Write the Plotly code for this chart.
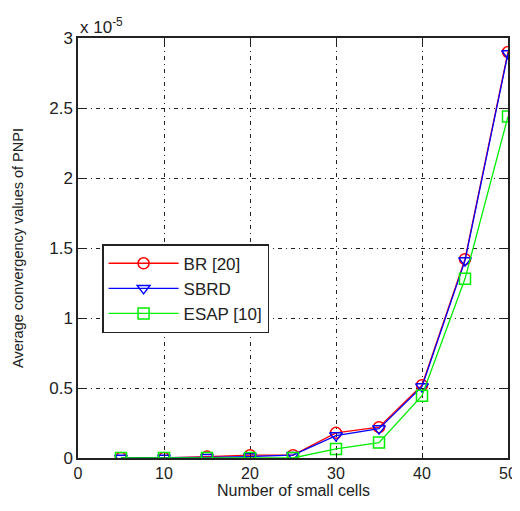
import plotly.graph_objects as go

x_cells = [5, 10, 15, 20, 25, 30, 35, 40, 45, 50]
# values in units of 1e-5
br = [0.0, 0.0, 0.01, 0.02, 0.02, 0.18, 0.22, 0.52, 1.42, 2.90]
sbrd = [0.0, 0.0, 0.005, 0.01, 0.02, 0.16, 0.21, 0.51, 1.41, 2.89]
esap = [0.0, 0.0, 0.0, 0.0, 0.0, 0.065, 0.11, 0.445, 1.28, 2.44]
x_ticks = [0, 10, 20, 30, 40, 50]
y_ticks = [0, 0.5, 1, 1.5, 2, 2.5, 3]
y_tick_text = ["0", "0.5", "1", "1.5", "2", "2.5", "3"]

fig = go.Figure()
series = [
    ("BR [20]", br, "#ff0000", "circle-open"),
    ("SBRD", sbrd, "#0000ff", "triangle-down-open"),
    ("ESAP [10]", esap, "#00ee00", "square-open"),
]
for name, ys, col, sym in series:
    fig.add_trace(go.Scatter(
        x=x_cells, y=ys, name=name, mode="lines+markers",
        line=dict(color=col, width=1.3),
        marker=dict(symbol=sym, size=11, color=col, line=dict(color=col, width=1.5)),
    ))

fam = "Liberation Sans, Arial, sans-serif"
axis_common = dict(
    showline=True, linecolor="#222222", linewidth=1.5, mirror="allticks",
    ticks="inside", ticklen=5, tickcolor="#222222",
    showgrid=True, gridcolor="#222222", gridwidth=1, griddash="1px,4px,4px,4px",
    zeroline=False,
)
fig.update_xaxes(range=[0, 50], tickvals=x_ticks,
                 tickfont=dict(family=fam, size=16, color="#222222"), **axis_common)
fig.update_yaxes(range=[0, 3], tickvals=y_ticks, ticktext=y_tick_text,
                 tickfont=dict(family=fam, size=17, color="#222222"),
                 title=dict(text="Average convergency values of PNPI", font=dict(family=fam, size=14.5, color="#222222"), standoff=22),
                 **axis_common)

# x-axis title (placed as annotation so it can sit close to the figure bottom)
fig.add_annotation(xref="paper", yref="paper", x=0.5, y=0.0, xanchor="center", yanchor="top",
                   text="Number of small cells", showarrow=False,
                   font=dict(family=fam, size=16, color="#222222"), yshift=-22)

fig.add_annotation(xref="paper", yref="paper", x=0.0, y=1.0, xanchor="left", yanchor="bottom",
                   text="x 10<sup>-5</sup>", showarrow=False,
                   font=dict(family=fam, size=17, color="#222222"), xshift=0, yshift=-1)

fig.update_layout(
    width=512, height=495,
    margin=dict(l=70, r=12, t=30, b=45, autoexpand=False),
    paper_bgcolor="white", plot_bgcolor="white",
    font=dict(family=fam, size=14, color="#222222"),
    legend=dict(x=0.056, y=0.509, xanchor="left", yanchor="top",
                bordercolor="#222222", borderwidth=1.5, bgcolor="white",
                font=dict(family=fam, size=17, color="#222222"),
                itemwidth=70),
)

fig.write_html("out.html")
